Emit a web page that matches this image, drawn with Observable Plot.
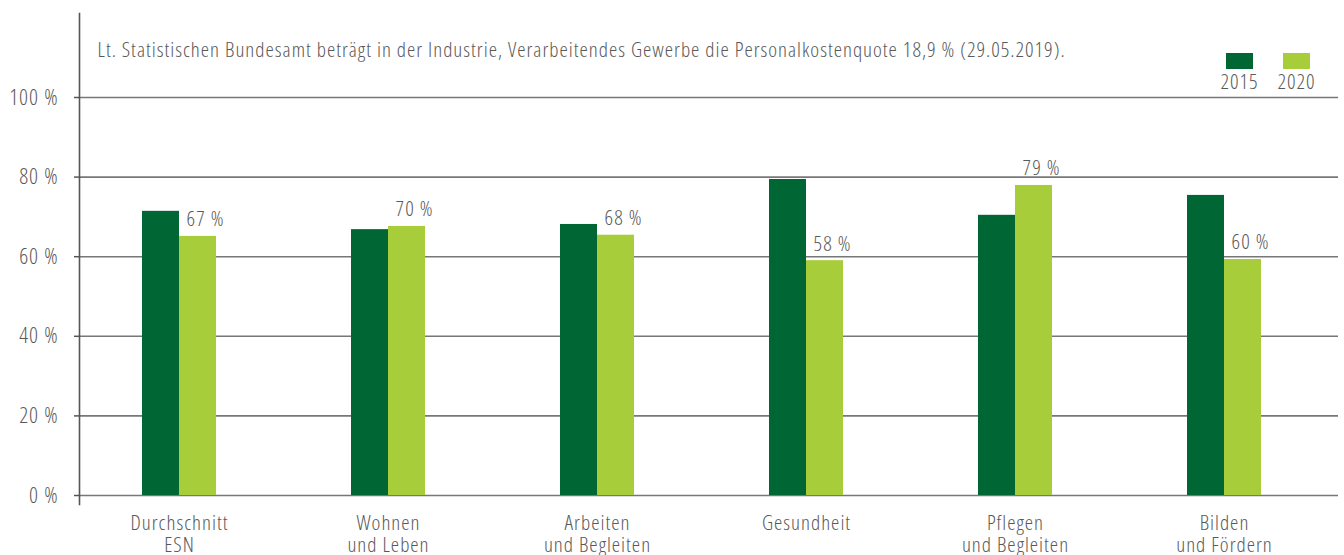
<!DOCTYPE html>
<html>
<head>
<meta charset="utf-8">
<script src="https://cdn.jsdelivr.net/npm/d3@7"></script>
<script src="https://cdn.jsdelivr.net/npm/@observablehq/plot@0.6"></script>
<style>
  html, body { margin: 0; padding: 0; background: #fff; }
  #wrap { position: relative; width: 1344px; height: 555px; font-family: "Open Sans", sans-serif; font-stretch: 75%; font-weight: 300; color: #595959; letter-spacing: 1px; }
  #legend { position: absolute; left: 1226px; top: 53px; display: flex; gap: 30px; }
  .item { display: flex; flex-direction: column; align-items: center; width: 27px; }
  .sw { width: 27px; height: 16px; }
  .lab { font-size: 21px; margin-top: 1px; line-height: 22px; white-space: nowrap; }
</style>
</head>
<body>
<div id="wrap"></div>
<script>
const categories = ["Durchschnitt\nESN", "Wohnen\nund Leben", "Arbeiten\nund Begleiten", "Gesundheit", "Pflegen\nund Begleiten", "Bilden\nund Fördern"];
const values2015 = [71.4, 66.8, 68.1, 79.4, 70.4, 75.4];
const values2020 = [65.1, 67.6, 65.4, 59.0, 77.9, 59.3];
const labels2020 = ["67 %", "70 %", "68 %", "58 %", "79 %", "60 %"];
const yTicks = [0, 20, 40, 60, 80, 100];
const series = ["2015", "2020"];
const colors = ["#006633", "#a8cd3a"];
const note = "Lt. Statistischen Bundesamt beträgt in der Industrie, Verarbeitendes Gewerbe die Personalkostenquote 18,9 % (29.05.2019).";

const rows = categories.map((c, i) => ({cat: c, v2015: values2015[i], v2020: values2020[i], label: labels2020[i]}));
const textColor = "#595959";

const chart = Plot.plot({
  width: 1344,
  height: 555,
  marginLeft: 79,
  marginRight: 6,
  marginTop: 13,
  marginBottom: 51,
  style: {fontFamily: "'Open Sans', sans-serif", fontSize: "21px", color: textColor, background: "#fff", fontStretch: "75%", fontWeight: 300, letterSpacing: "1px"},
  x: {domain: categories, range: [72.2, 1329.8], paddingInner: 0.647, paddingOuter: 0.3235, label: null},
  y: {domain: [0, 100], range: [495, 97], label: null},
  marks: [
    Plot.ruleY(yTicks, {stroke: "#777", strokeWidth: 1.6}),
    Plot.barY(rows, {x: "cat", y: "v2015", fill: colors[0], insetRight: 37}),
    Plot.barY(rows, {x: "cat", y: "v2020", fill: colors[1], insetLeft: 37}),
    Plot.text(rows, {x: "cat", y: "v2020", text: "label", dx: 26, dy: -10, lineAnchor: "bottom", fill: textColor, fontSize: 21}),
    Plot.axisY({ticks: yTicks, tickFormat: d => d + " %", tickSize: 5, tickPadding: 16, stroke: "#555", strokeWidth: 1.5, fill: textColor, fontSize: 22, label: null}),
    Plot.axisX({tickSize: 0, tickPadding: 10, lineHeight: 1.05, fill: textColor, fontSize: 21, label: null}),
    Plot.frame({anchor: "left", stroke: "#555", strokeWidth: 1.6}),
    Plot.text([note], {frameAnchor: "top-left", dx: 18, dy: 37, lineAnchor: "middle", textAnchor: "start", fill: textColor, fontSize: 21})
  ]
});

const wrap = document.getElementById("wrap");
wrap.appendChild(chart);
const legend = document.createElement("div");
legend.id = "legend";
series.forEach((s, i) => {
  const it = document.createElement("div");
  it.className = "item";
  const sw = document.createElement("div");
  sw.className = "sw";
  sw.style.background = colors[i];
  const lb = document.createElement("div");
  lb.className = "lab";
  lb.textContent = s;
  it.appendChild(sw); it.appendChild(lb);
  legend.appendChild(it);
});
wrap.appendChild(legend);
</script>
</body>
</html>
